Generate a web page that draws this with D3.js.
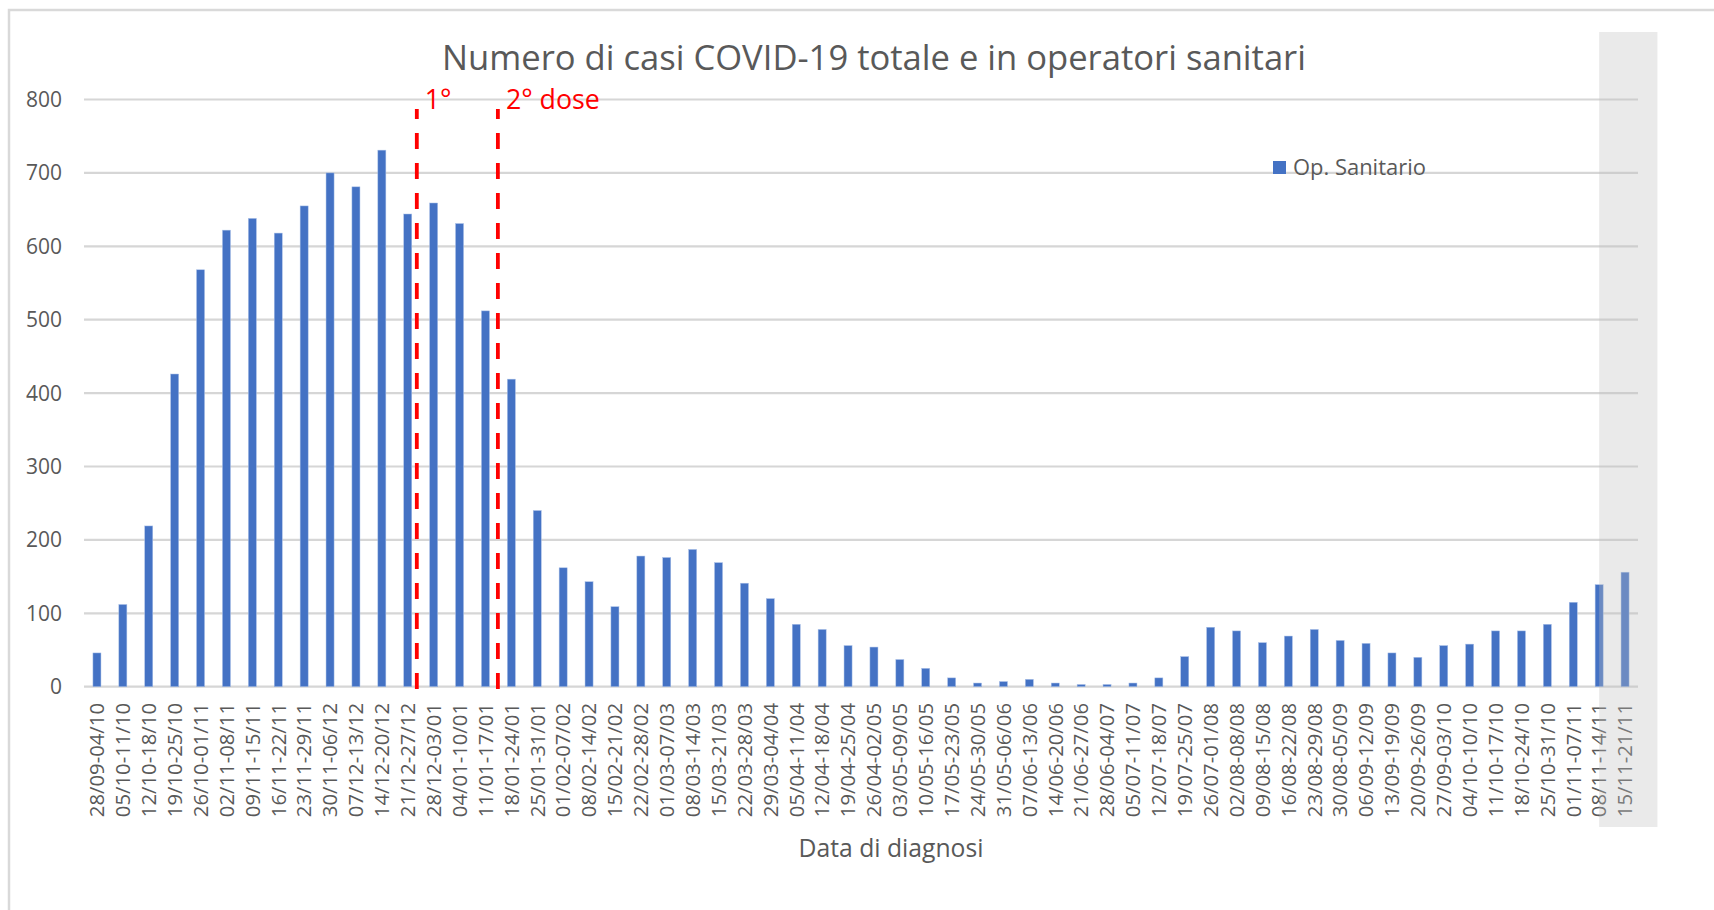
<!DOCTYPE html>
<html>
<head>
<meta charset="utf-8">
<script src="https://cdn.jsdelivr.net/npm/d3@7"></script>
<style>
  body { margin: 0; background: #fff; }
  text { font-family: "Open Sans", sans-serif; fill: #595959; }
</style>
</head>
<body>
<div id="chart"></div>
<script>
const weeks = [
  "28/09-04/10","05/10-11/10","12/10-18/10","19/10-25/10","26/10-01/11","02/11-08/11",
  "09/11-15/11","16/11-22/11","23/11-29/11","30/11-06/12","07/12-13/12","14/12-20/12",
  "21/12-27/12","28/12-03/01","04/01-10/01","11/01-17/01","18/01-24/01","25/01-31/01",
  "01/02-07/02","08/02-14/02","15/02-21/02","22/02-28/02","01/03-07/03","08/03-14/03",
  "15/03-21/03","22/03-28/03","29/03-04/04","05/04-11/04","12/04-18/04","19/04-25/04",
  "26/04-02/05","03/05-09/05","10/05-16/05","17/05-23/05","24/05-30/05","31/05-06/06",
  "07/06-13/06","14/06-20/06","21/06-27/06","28/06-04/07","05/07-11/07","12/07-18/07",
  "19/07-25/07","26/07-01/08","02/08-08/08","09/08-15/08","16/08-22/08","23/08-29/08",
  "30/08-05/09","06/09-12/09","13/09-19/09","20/09-26/09","27/09-03/10","04/10-10/10",
  "11/10-17/10","18/10-24/10","25/10-31/10","01/11-07/11","08/11-14/11","15/11-21/11"
];
const opSanitario = [
  46,112,219,426,568,622,638,618,655,700,
  681,731,644,659,631,512,419,240,162,143,
  109,178,176,187,169,141,120,85,78,56,
  54,37,25,12,5,7,10,5,3,3,
  5,12,41,81,76,60,69,78,63,59,
  46,40,56,58,76,76,85,115,139,156
];
const yTicks = [0,100,200,300,400,500,600,700,800];
// dose markers: drawn after the given week, at a fraction of a step
const doseWeeks = ["21/12-27/12", "11/01-17/01"];
const doseShift = [0.35, 0.48];
const doseLabels = ["1°", "2° dose"];
// last weeks highlighted (incomplete data)
const shadeFrom = "08/11-14/11";

const W = 1714, H = 910;
const plotLeft = 84, plotRight = 1638, plotTop = 99.5, plotBottom = 686.7;

function fit(sel, w) {
  const len = sel.node().getComputedTextLength();
  const fs = parseFloat(sel.style("font-size"));
  sel.style("font-size", (fs * w / len) + "px");
  return fs * w / len;
}

const svg = d3.select("#chart").append("svg")
  .attr("width", W).attr("height", H);

// chart border (cut at right and bottom)
svg.append("path")
  .attr("d", `M9,${H} L9,10 L${W},10`)
  .attr("fill", "none").attr("stroke", "#d9d9d9").attr("stroke-width", 2.5);

const x = d3.scaleBand()
  .domain(weeks)
  .range([plotLeft, plotRight])
  .paddingInner(0.69)
  .paddingOuter(0.345);

const y = d3.scaleLinear()
  .domain([0, 800])
  .range([plotBottom, plotTop]);

// gridlines
svg.append("g").selectAll("line")
  .data(yTicks)
  .join("line")
  .attr("x1", plotLeft).attr("x2", plotRight)
  .attr("y1", d => y(d)).attr("y2", d => y(d))
  .attr("stroke", "#d6d6d6").attr("stroke-width", 2.2);

// y labels
svg.append("g").selectAll("text")
  .data(yTicks)
  .join("text")
  .attr("x", 62)
  .attr("y", d => y(d))
  .attr("dy", "0.36em")
  .attr("text-anchor", "end")
  .style("font-size", "21px")
  .text(d => d);

// bars
svg.append("g").selectAll("rect")
  .data(opSanitario)
  .join("rect")
  .attr("x", (d, i) => x(weeks[i]))
  .attr("y", d => y(d))
  .attr("width", x.bandwidth())
  .attr("height", d => y(0) - y(d))
  .attr("fill", "#4472c4")
  .attr("stroke", "#a9c0e8").attr("stroke-width", 0.5);

// x labels
svg.append("g").selectAll("text")
  .data(weeks)
  .join("text")
  .attr("transform", d => `translate(${x(d) + x.bandwidth() / 2},703) rotate(-90)`)
  .attr("dy", "0.36em")
  .attr("text-anchor", "end")
  .style("font-size", "20.3px")
  .text(d => d);

// dose lines
const step = x.step();
const doseText = [];
doseWeeks.forEach((wk, i) => {
  const lx = x(wk) + x.bandwidth() / 2 + step * doseShift[i];
  svg.append("line")
    .attr("x1", lx).attr("x2", lx)
    .attr("y1", 689).attr("y2", 109)
    .attr("stroke", "#ff0000").attr("stroke-width", 3.8)
    .attr("stroke-dasharray", "16,14");
  doseText.push(svg.append("text")
    .attr("x", lx + 8).attr("y", 109)
    .style("fill", "#ff0000")
    .style("font-size", "24px")
    .text(doseLabels[i]));
});
const doseSize = fit(doseText[1], 94);
doseText[0].style("font-size", doseSize + "px");

// title
const title = svg.append("text")
  .attr("x", 874).attr("y", 70)
  .attr("text-anchor", "middle")
  .style("font-size", "30px")
  .text("Numero di casi COVID-19 totale e in operatori sanitari");
fit(title, 864);

// axis title
const xt = svg.append("text")
  .attr("x", 891).attr("y", 857)
  .attr("text-anchor", "middle")
  .style("font-size", "22px")
  .text("Data di diagnosi");
fit(xt, 185);

// legend
svg.append("rect")
  .attr("x", 1273).attr("y", 161).attr("width", 13).attr("height", 13)
  .attr("fill", "#4472c4");
const lg = svg.append("text")
  .attr("x", 1293).attr("y", 175)
  .style("font-size", "21px")
  .text("Op. Sanitario");
fit(lg, 133);

// shaded overlay on last weeks
const sx = x(shadeFrom) + x.bandwidth() / 2;
svg.append("rect")
  .attr("x", sx).attr("y", 32)
  .attr("width", step * 2.25).attr("height", 795)
  .attr("fill", "rgb(190,190,190)").attr("fill-opacity", 0.32);
</script>
</body>
</html>
